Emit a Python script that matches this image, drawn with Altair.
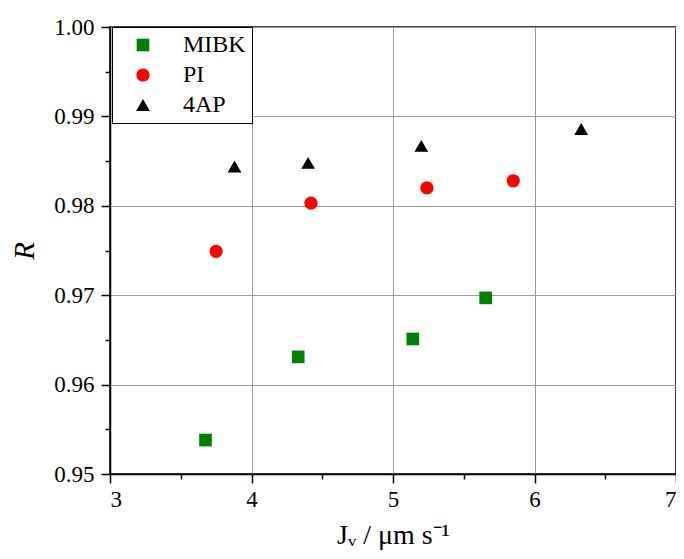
import altair as alt
import pandas as pd

series = ["MIBK", "PI", "4AP"]
mibk_x = [3.675, 4.33, 5.14, 5.655]
mibk_y = [0.9538, 0.9631, 0.9651, 0.9697]
pi_x = [3.75, 4.42, 5.24, 5.85]
pi_y = [0.9749, 0.9803, 0.9820, 0.9828]
ap_x = [3.88, 4.40, 5.20, 6.33]
ap_y = [0.9844, 0.9848, 0.9867, 0.9886]

x_ticks = [3, 4, 5, 6, 7]
y_ticks = [0.95, 0.96, 0.97, 0.98, 0.99, 1.00]
x_minor = [3.5, 4.5, 5.5, 6.5]
y_minor = [0.955, 0.965, 0.975, 0.985, 0.995]

colors = ["#008000", "#ff0000", "#000000"]
shapes = ["square", "circle", "triangle-up"]
sizes = [160, 190, 290]

rows = []
for name, xs, ys in zip(series, [mibk_x, pi_x, ap_x], [mibk_y, pi_y, ap_y]):
    for xv, yv in zip(xs, ys):
        rows.append({"series": name, "x": xv, "y": yv})
df = pd.DataFrame(rows)

FONT = "Liberation Serif"

xscale = alt.Scale(domain=[3, 7], nice=False, zero=False)
yscale = alt.Scale(domain=[0.95, 1.00], nice=False, zero=False)

leg = alt.Legend(
    title=None, orient="none", legendX=2, legendY=0,
    labelFont=FONT, labelFontSize=24, labelColor="black",
    strokeColor="black", fillColor="white", padding=6,
    symbolOffset=13, labelOffset=28, rowPadding=6,
    symbolStrokeWidth=0, cornerRadius=0,
)

pts = alt.Chart(df).mark_point(filled=True, opacity=1).encode(
    x=alt.X("x:Q", scale=xscale,
            axis=alt.Axis(values=x_ticks, title="Jᵥ / μm s⁻¹", grid=True,
                          gridColor="#999999", gridWidth=1, orient="bottom",
                          tickSize=9, tickColor="black", tickWidth=1.5,
                          domainColor="black", domainWidth=1.5,
                          labelFont=FONT, labelFontSize=23, labelColor="black",
                          labelPadding=5,
                          titleFont=FONT, titleFontSize=28, titleFontWeight="normal",
                          titleColor="black", titlePadding=10)),
    y=alt.Y("y:Q", scale=yscale,
            axis=alt.Axis(values=y_ticks, format=".2f", title="R", grid=True,
                          gridColor="#999999", gridWidth=1, orient="left",
                          tickSize=9, tickColor="black", tickWidth=1.5,
                          domainColor="black", domainWidth=1.5,
                          labelFont=FONT, labelFontSize=23, labelColor="black",
                          labelPadding=7,
                          titleFont=FONT, titleFontSize=29, titleFontWeight="normal",
                          titleFontStyle="italic", titleColor="black",
                          titlePadding=14)),
    color=alt.Color("series:N", scale=alt.Scale(domain=series, range=colors), legend=leg),
    shape=alt.Shape("series:N", scale=alt.Scale(domain=series, range=shapes), legend=leg),
    size=alt.Size("series:N", scale=alt.Scale(domain=series, range=sizes), legend=leg),
)

minor = alt.Chart(df).mark_point(opacity=0).encode(
    x=alt.X("x:Q", scale=xscale,
            axis=alt.Axis(values=x_minor, labels=False, domain=False, grid=False,
                          title=None, orient="bottom", tickSize=5,
                          tickColor="black", tickWidth=1.5)),
    y=alt.Y("y:Q", scale=yscale,
            axis=alt.Axis(values=y_minor, labels=False, domain=False, grid=False,
                          title=None, orient="left", tickSize=5,
                          tickColor="black", tickWidth=1.5)),
)

chart = alt.layer(pts, minor).resolve_axis(x="independent", y="independent").properties(
    width=566, height=447,
    autosize=alt.AutoSizeParams(type="none"),
    padding={"left": 102, "top": 19, "right": 0, "bottom": 77},
).configure_view(stroke="black", strokeWidth=1.5)

chart.save("out.html", embed_options={"renderer": "svg", "actions": False})
